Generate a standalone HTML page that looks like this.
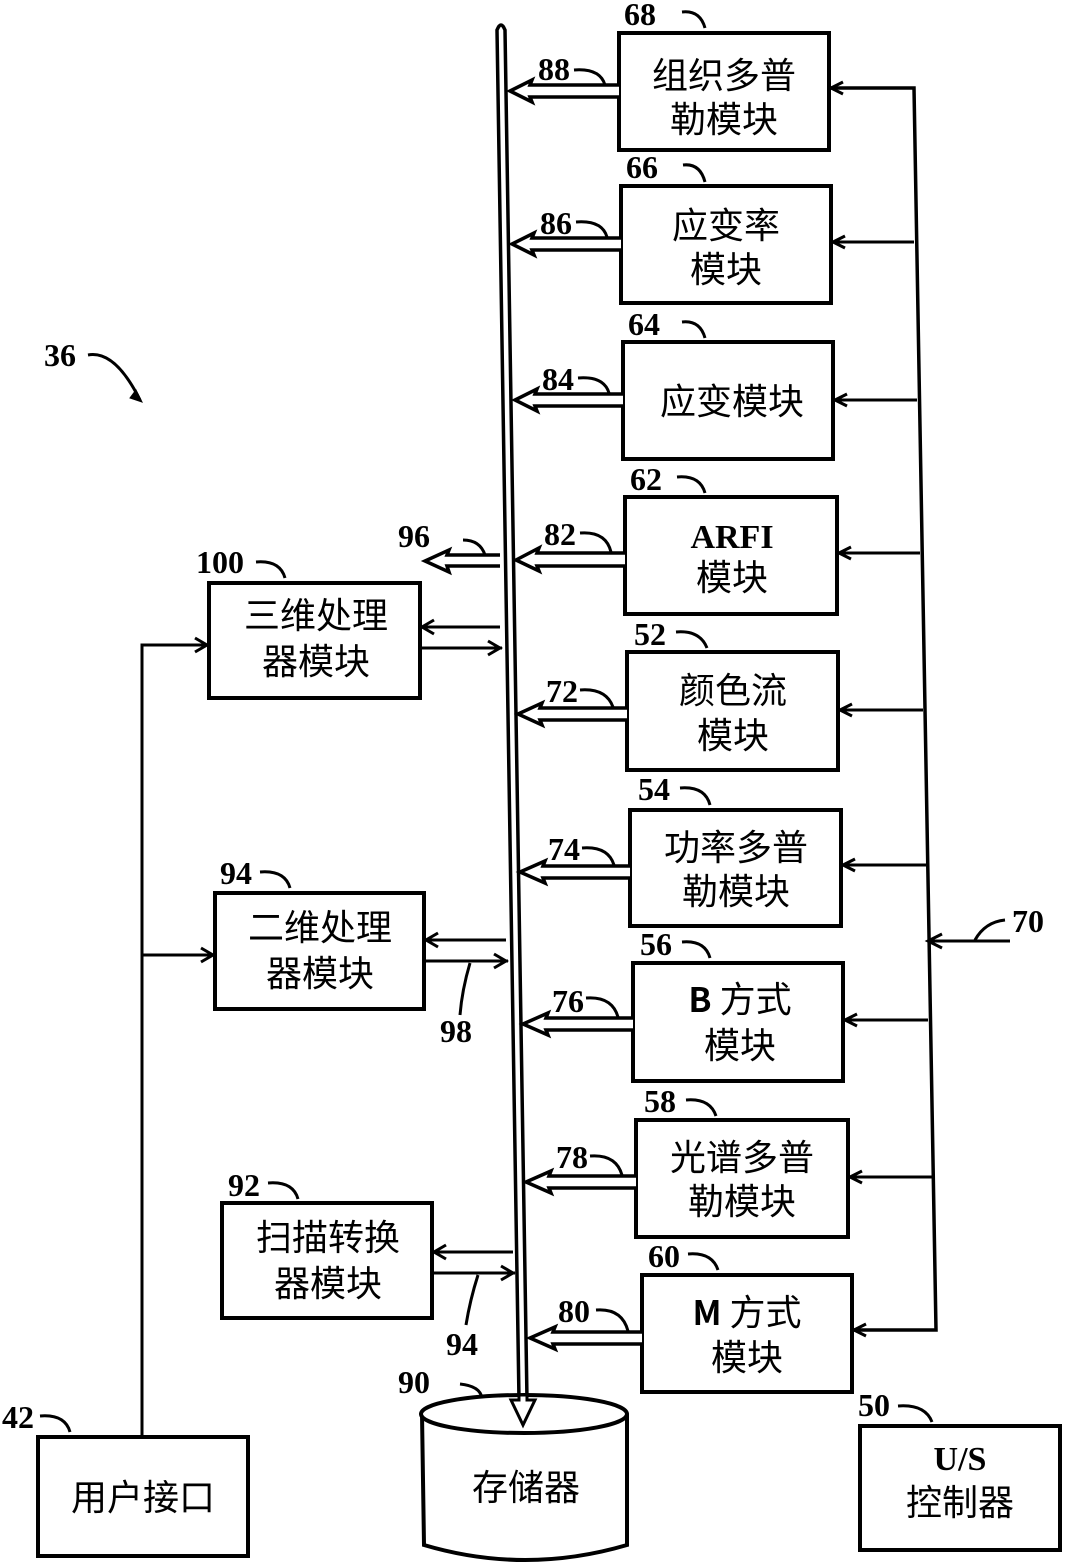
<!DOCTYPE html>
<html><head><meta charset="utf-8"><style>
html,body{margin:0;padding:0;background:#fff}
svg{display:block}
text{font-family:"Liberation Serif","Noto Serif CJK SC","Noto Sans CJK SC",serif;fill:#000}
.cj{font-size:36px;font-family:"Noto Sans CJK SC","WenQuanYi Zen Hei",sans-serif}
.n{font-size:32px;font-weight:bold}
</style></head><body>
<svg width="1077" height="1566" viewBox="0 0 1077 1566" xmlns="http://www.w3.org/2000/svg" fill="none" stroke="#000" stroke-width="3.5">
<path d="M497 30 Q501 20 505 30 L527 1400 L535 1400 L523 1425 L511 1400 L519 1400 Z" fill="#fff"/>
<polyline points="829,88 914,88 936,1330 852,1330" />
<g stroke-width="3">
<line x1="914" y1="242" x2="831" y2="242"/>
<line x1="917" y1="400" x2="833" y2="400"/>
<line x1="920" y1="553" x2="837" y2="553"/>
<line x1="923" y1="710" x2="838" y2="710"/>
<line x1="926" y1="865" x2="841" y2="865"/>
<line x1="928" y1="1020" x2="843" y2="1020"/>
<line x1="932" y1="1177" x2="848" y2="1177"/>
</g>
<g stroke-width="3">
<path d="M843 82 L831 88 L843 94"/><path d="M845 236 L833 242 L845 248"/><path d="M847 394 L835 400 L847 406"/>
<path d="M851 547 L839 553 L851 559"/><path d="M852 704 L840 710 L852 716"/><path d="M855 859 L843 865 L855 871"/>
<path d="M857 1014 L845 1020 L857 1026"/><path d="M862 1171 L850 1177 L862 1183"/><path d="M866 1324 L854 1330 L866 1336"/>
<path d="M942 934 L928 941 L942 948"/>
</g>
<path d="M928 941 L1010 941 M975 940 Q985 922 1005 920" stroke-width="3"/>
<g stroke-width="4">
<rect x="619" y="33" width="210" height="117"/>
<rect x="621" y="186" width="210" height="117"/>
<rect x="623" y="342" width="210" height="117"/>
<rect x="625" y="497" width="212" height="117"/>
<rect x="627" y="652" width="211" height="118"/>
<rect x="630" y="810" width="211" height="116"/>
<rect x="633" y="963" width="210" height="118"/>
<rect x="636" y="1120" width="212" height="117"/>
<rect x="642" y="1275" width="210" height="117"/>
<rect x="860" y="1426" width="200" height="124"/>
<rect x="209" y="583" width="211" height="115"/>
<rect x="215" y="893" width="209" height="116"/>
<rect x="222" y="1203" width="210" height="115"/>
<rect x="38" y="1437" width="210" height="119"/>
</g>
<g stroke-width="3.5" fill="#fff">
<path d="M619 85 L530 85 L532 80 L510 91 L532 102 L530 97 L619 97"/>
<path d="M621 238 L532 238 L534 233 L512 244 L534 255 L532 250 L621 250"/>
<path d="M623 394 L535 394 L537 389 L515 400 L537 411 L535 406 L623 406"/>
<path d="M625 553 L537 553 L539 548 L516 560 L539 571 L537 566 L625 566"/>
<path d="M627 708 L540 708 L542 703 L518 714 L542 725 L540 720 L627 720"/>
<path d="M630 866 L543 866 L545 861 L520 872 L545 883 L543 878 L630 878"/>
<path d="M633 1018 L546 1018 L548 1013 L523 1024 L548 1035 L546 1030 L633 1030"/>
<path d="M636 1176 L549 1176 L551 1171 L526 1182 L551 1193 L549 1188 L636 1188"/>
<path d="M642 1332 L553 1332 L555 1327 L530 1338 L555 1349 L553 1344 L642 1344"/>
<path d="M500 555 L447 555 L449 550 L425 561 L449 572 L447 566 L500 566"/>
</g>
<g stroke-width="3">
<line x1="420" y1="627" x2="500" y2="627"/><path d="M434 620 L422 627 L434 634"/>
<line x1="420" y1="648" x2="502" y2="648"/><path d="M488 641 L500 648 L488 655"/>
<line x1="424" y1="940" x2="506" y2="940"/><path d="M438 933 L426 940 L438 947"/>
<line x1="424" y1="961" x2="508" y2="961"/><path d="M494 954 L506 961 L494 968"/>
<line x1="432" y1="1252" x2="513" y2="1252"/><path d="M446 1245 L434 1252 L446 1259"/>
<line x1="432" y1="1273" x2="515" y2="1273"/><path d="M501 1266 L513 1273 L501 1280"/>
<polyline points="142,1437 142,645 207,645"/><path d="M195 638 L207 645 L195 652"/>
<line x1="142" y1="955" x2="213" y2="955"/><path d="M201 948 L213 955 L201 962"/>
<path d="M470 963 Q462 990 460 1015"/><path d="M478 1275 Q470 1300 466 1325"/>
</g>
<path d="M422 1414 L424 1545 Q525 1575 627 1545 L627 1414" stroke-width="4" fill="#fff"/>
<ellipse cx="524" cy="1414" rx="103" ry="19" stroke-width="4" fill="#fff"/>
<path d="M511 1400 L519 1400 L519 1395 L527 1395 L527 1400 L535 1400 L523 1425 Z" fill="#fff" stroke-width="3"/>
<g stroke-width="3">
<path d="M682 12 Q700 10 705 28"/><path d="M683 165 Q700 163 705 182"/><path d="M682 322 Q700 320 705 338"/>
<path d="M677 477 Q700 475 705 493"/><path d="M676 632 Q700 630 707 648"/><path d="M680 788 Q705 786 710 805"/>
<path d="M682 942 Q705 940 710 958"/><path d="M686 1100 Q710 1098 716 1116"/><path d="M688 1254 Q712 1252 718 1270"/>
<path d="M898 1406 Q925 1404 932 1422"/><path d="M256 562 Q280 560 285 578"/><path d="M260 872 Q285 870 290 888"/>
<path d="M268 1183 Q293 1181 298 1199"/><path d="M40 1416 Q65 1414 70 1432"/><path d="M460 1384 Q480 1386 482 1398"/>
<path d="M574 70 Q600 68 605 85"/><path d="M576 222 Q602 220 607 237"/><path d="M578 378 Q604 376 609 393"/>
<path d="M580 533 Q606 531 611 552"/><path d="M580 690 Q606 688 613 707"/><path d="M582 848 Q608 846 614 865"/>
<path d="M586 998 Q612 996 618 1017"/><path d="M590 1156 Q616 1154 622 1175"/><path d="M596 1310 Q622 1308 628 1331"/>
<path d="M463 540 Q480 540 485 555"/><path d="M88 355 Q115 350 140 400"/>
</g>
<path d="M136 390 L142 402 L130 398 Z" fill="#000" stroke-width="1"/>
<g stroke="none">
<text class="n" x="624" y="25">68</text><text class="n" x="626" y="178">66</text><text class="n" x="628" y="335">64</text>
<text class="n" x="630" y="490">62</text><text class="n" x="634" y="645">52</text><text class="n" x="638" y="800">54</text>
<text class="n" x="640" y="955">56</text><text class="n" x="644" y="1112">58</text><text class="n" x="648" y="1267">60</text>
<text class="n" x="538" y="80">88</text><text class="n" x="540" y="234">86</text><text class="n" x="542" y="390">84</text>
<text class="n" x="544" y="545">82</text><text class="n" x="546" y="702">72</text><text class="n" x="548" y="860">74</text>
<text class="n" x="552" y="1012">76</text><text class="n" x="556" y="1168">78</text><text class="n" x="558" y="1322">80</text>
<text class="n" x="398" y="547">96</text><text class="n" x="196" y="573">100</text><text class="n" x="220" y="884">94</text>
<text class="n" x="228" y="1196">92</text><text class="n" x="440" y="1042">98</text><text class="n" x="446" y="1355">94</text>
<text class="n" x="398" y="1393">90</text><text class="n" x="2" y="1428">42</text><text class="n" x="858" y="1416">50</text>
<text class="n" x="1012" y="932">70</text><text class="n" x="44" y="366">36</text>
<text class="cj" x="724" y="88" text-anchor="middle">组织多普</text><text class="cj" x="724" y="132" text-anchor="middle">勒模块</text>
<text class="cj" x="726" y="238" text-anchor="middle">应变率</text><text class="cj" x="726" y="282" text-anchor="middle">模块</text>
<text class="cj" x="732" y="414" text-anchor="middle">应变模块</text>
<text class="n" x="732" y="548" text-anchor="middle" style="font-size:34px">ARFI</text><text class="cj" x="732" y="590" text-anchor="middle">模块</text>
<text class="cj" x="733" y="703" text-anchor="middle">颜色流</text><text class="cj" x="733" y="748" text-anchor="middle">模块</text>
<text class="cj" x="736" y="860" text-anchor="middle">功率多普</text><text class="cj" x="736" y="904" text-anchor="middle">勒模块</text>
<text class="cj" x="740" y="1012" text-anchor="middle"><tspan class="n" style="font-size:34px">B</tspan> 方式</text><text class="cj" x="740" y="1058" text-anchor="middle">模块</text>
<text class="cj" x="742" y="1170" text-anchor="middle">光谱多普</text><text class="cj" x="742" y="1214" text-anchor="middle">勒模块</text>
<text class="cj" x="747" y="1325" text-anchor="middle"><tspan class="n" style="font-size:34px">M</tspan> 方式</text><text class="cj" x="747" y="1370" text-anchor="middle">模块</text>
<text class="n" x="960" y="1470" text-anchor="middle" style="font-size:34px">U/S</text><text class="cj" x="960" y="1515" text-anchor="middle">控制器</text>
<text class="cj" x="316" y="628" text-anchor="middle">三维处理</text><text class="cj" x="316" y="674" text-anchor="middle">器模块</text>
<text class="cj" x="320" y="940" text-anchor="middle">二维处理</text><text class="cj" x="320" y="986" text-anchor="middle">器模块</text>
<text class="cj" x="328" y="1250" text-anchor="middle">扫描转换</text><text class="cj" x="328" y="1296" text-anchor="middle">器模块</text>
<text class="cj" x="143" y="1510" text-anchor="middle">用户接口</text>
<text class="cj" x="526" y="1500" text-anchor="middle">存储器</text>
</g>
</svg>
</body></html>
